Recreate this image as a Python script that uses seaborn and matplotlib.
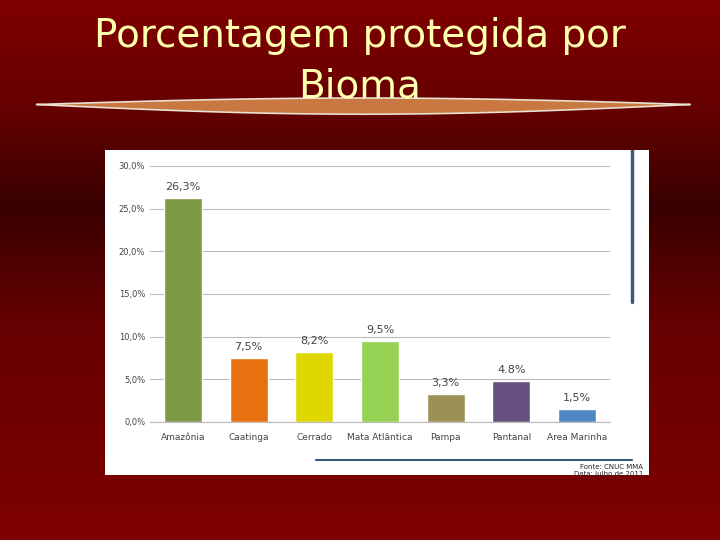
import matplotlib
matplotlib.use("Agg")
import matplotlib.pyplot as plt
import seaborn as sns
import numpy as np
import pandas as pd

categories = ["Amazônia", "Caatinga", "Cerrado", "Mata Atlântica", "Pampa", "Pantanal", "Area Marinha"]
values = [26.3, 7.5, 8.2, 9.5, 3.3, 4.8, 1.5]
labels = ["26,3%", "7,5%", "8,2%", "9,5%", "3,3%", "4.8%", "1,5%"]
colors = ["#7d9a45", "#e8700e", "#dfd800", "#95d152", "#9b9157", "#65507f", "#4f86c4"]
yticks = [0, 5, 10, 15, 20, 25, 30]
yticklabels = ["0,0%", "5,0%", "10,0%", "15,0%", "20,0%", "25,0%", "30,0%"]

sns.set_style("white")
fig = plt.figure(figsize=(7.2, 5.4), dpi=100)

# background gradient
bg = fig.add_axes([0, 0, 1, 1])
t = np.linspace(0, 1, 256)
r = np.interp(t, [0, 0.2, 0.38, 0.6, 1], [0.50, 0.40, 0.22, 0.40, 0.50])
img = np.zeros((256, 1, 3)); img[:, 0, 0] = r
bg.imshow(img, aspect="auto", extent=[0, 1, 0, 1], origin="upper")
bg.set_xlim(0, 1); bg.set_ylim(0, 1); bg.axis("off")

# decorative underline
xs = np.linspace(0.05, 0.958, 200)
w = np.sin(np.pi * (xs - 0.05) / 0.908)
yc = 1 - 104/540
bg.fill_between(xs, yc - 0.018 * w, yc + 0.012 * w, color="#c87840", ec="#e8e0d0", lw=1.2)

fig.text(0.5, 1 - 36/540, "Porcentagem protegida por", ha="center", va="center",
         fontsize=28, color="#ffffb0", family="DejaVu Sans", zorder=5)
fig.text(0.5, 1 - 86/540, "Bioma", ha="center", va="center",
         fontsize=28, color="#ffffb0", family="DejaVu Sans", zorder=5)

# white panel
panel = fig.add_axes([105/720, 1-475/540, 544/720, 325/540])
panel.set_facecolor("white"); panel.set_xticks([]); panel.set_yticks([])
panel.set_xlim(0, 1); panel.set_ylim(0, 1)
for s in panel.spines.values(): s.set_visible(False)
panel.plot([0.969, 0.969], [1.0, 1 - 152/325], color="#3a5a80", lw=2.5)
panel.plot([(316-105)/544, (632-105)/544], [1-(460-150)/325]*2, color="#3a5a80", lw=1.5)
panel.text(0.989, 0.035, "Fonte: CNUC MMA\nData: Julho de 2011", ha="right", va="top", fontsize=5)

ax = fig.add_axes([150/720, 1-422/540, 460/720, 256/540])
df = pd.DataFrame({"cat": categories, "val": values})
sns.barplot(data=df, x="cat", y="val", hue="cat", palette=colors, legend=False, ax=ax, width=0.58, saturation=1)
ax.set_ylim(0, 30)
ax.set_yticks(yticks); ax.set_yticklabels(yticklabels, fontsize=6, color="#444")
ax.yaxis.grid(True, color="#bbbbbb", lw=0.8)
ax.set_axisbelow(True)
ax.set_xlabel(""); ax.set_ylabel("")
ax.tick_params(axis="x", labelsize=6.5, colors="#444", length=0, pad=8)
ax.tick_params(axis="y", length=0)
for s in ["top", "right", "left"]: ax.spines[s].set_visible(False)
ax.spines["bottom"].set_color("#bbbbbb")
for i, (v, l) in enumerate(zip(values, labels)):
    ax.text(i, v + 0.7, l, ha="center", va="bottom", fontsize=8, color="#444")
fig.savefig("out.png", dpi=100)
